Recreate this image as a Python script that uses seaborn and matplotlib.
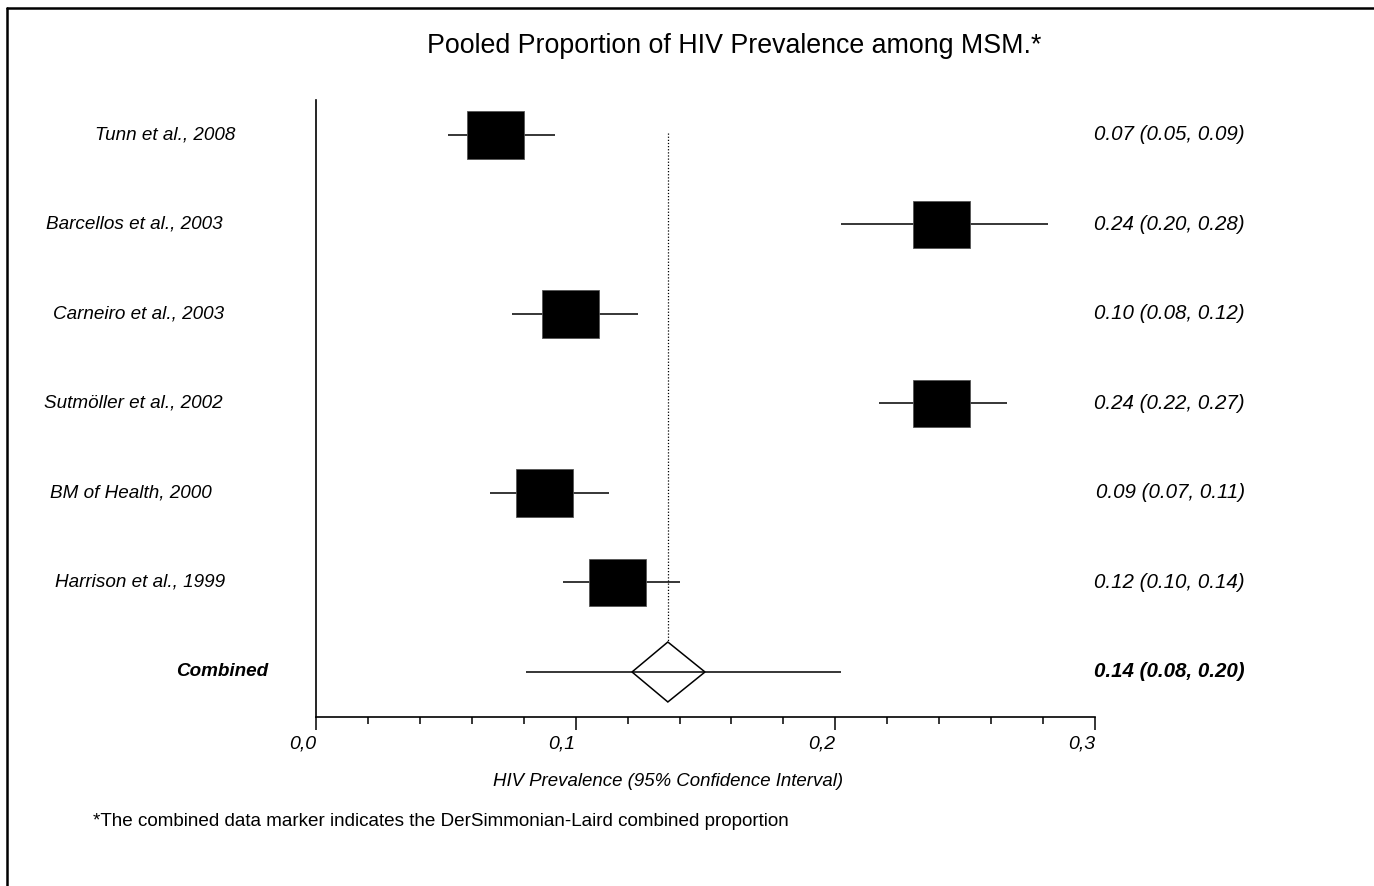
import matplotlib
matplotlib.use("Agg")
import matplotlib.pyplot as plt
from matplotlib.lines import Line2D
from matplotlib.patches import Polygon
from matplotlib.ticker import MultipleLocator, FixedLocator
from matplotlib.transforms import blended_transform_factory
import seaborn as sns

# Data
studies = ["Tunn et al., 2008", "Barcellos et al., 2003", "Carneiro et al., 2003",
           "Sutmöller et al., 2002", "BM of Health, 2000", "Harrison et al., 1999"]
estimates = [0.069, 0.241, 0.098, 0.241, 0.088, 0.116]
ci_low = [0.051, 0.202, 0.0755, 0.217, 0.067, 0.095]
ci_high = [0.092, 0.282, 0.124, 0.266, 0.113, 0.140]
ci_labels = ["0.07 (0.05, 0.09)", "0.24 (0.20, 0.28)", "0.10 (0.08, 0.12)",
             "0.24 (0.22, 0.27)", "0.09 (0.07, 0.11)", "0.12 (0.10, 0.14)"]

pooled_name = "Combined"
pooled_est = 0.1355
pooled_low = 0.081
pooled_high = 0.202
pooled_box_low = 0.1217
pooled_box_high = 0.1498
pooled_label = "0.14 (0.08, 0.20)"

x_ticks = [0.0, 0.1, 0.2, 0.3]
x_tick_labels = ["0,0", "0,1", "0,2", "0,3"]

sns.set_theme(style="white")
plt.rcParams["font.family"] = ["Liberation Sans", "DejaVu Sans"]
plt.rcParams["text.color"] = "black"
plt.rcParams["axes.labelcolor"] = "black"
plt.rcParams["xtick.color"] = "black"

W, H = 1374, 886
fig = plt.figure(figsize=(W / 100, H / 100), dpi=100)
fig.patch.set_facecolor("white")

# axes placed in pixels: x 316..1095, y 100..717
ax = fig.add_axes([316 / W, 1 - 717 / H, 779 / W, 617 / H])
ax.set_facecolor("white")

n = len(studies)
rows = list(range(n))
box_w = 0.022
box_h = 0.53

# CI whiskers
ax.hlines(rows, ci_low, ci_high, color="black", linewidth=1.1, zorder=2)
# study boxes
ax.barh(rows, [box_w] * n, left=[e - box_w / 2 for e in estimates], height=box_h,
        color="black", edgecolor="#555555", linewidth=0.6, zorder=3)

# pooled estimate
pr = n
ax.hlines(pr, pooled_low, pooled_high, color="black", linewidth=1.1, zorder=2)
dh = 0.335
diamond = Polygon([(pooled_box_low, pr), (pooled_est, pr - dh),
                   (pooled_box_high, pr), (pooled_est, pr + dh)],
                  closed=True, facecolor="none", edgecolor="black", linewidth=1.1, zorder=3)
ax.add_patch(diamond)
ax.vlines(pooled_est, -0.02, pr - dh, color="black", linewidth=0.9,
          linestyles=(0, (1, 1.5)), zorder=1)

ax.set_xlim(0, 0.3)
ax.set_ylim(6.503, -0.391)

sns.despine(ax=ax, top=True, right=True)
for s in ("left", "bottom"):
    ax.spines[s].set_color("black")
    ax.spines[s].set_linewidth(1.2)

ax.xaxis.set_major_locator(FixedLocator(x_ticks))
ax.xaxis.set_minor_locator(MultipleLocator(0.02))
ax.set_xticklabels(x_tick_labels, fontsize=14, style="italic", ha="right")
ax.tick_params(axis="x", which="major", direction="out", length=9, width=1.1,
               color="black", pad=4, bottom=True)
ax.tick_params(axis="x", which="minor", direction="out", length=5, width=1.1,
               color="black", bottom=True)
ax.set_yticks([])

blend = blended_transform_factory(fig.transFigure, ax.transData)

# left-hand study labels (left edges in pixels) and right-hand CI labels
label_x = [95, 46, 53, 44, 50, 55]
for i, name in enumerate(studies):
    ax.text(label_x[i] / W, i, name, transform=blend,
            ha="left", va="center", fontsize=13.6, style="italic")
    ax.text(1245 / W, i, ci_labels[i], transform=blend,
            ha="right", va="center", fontsize=14.8, style="italic")

ax.text(176 / W, pr, pooled_name, transform=blend, ha="left", va="center",
        fontsize=13.6, style="italic", weight="bold")
ax.text(1245 / W, pr, pooled_label, transform=blend, ha="right", va="center",
        fontsize=14.8, style="italic", weight="bold")

fig.text(734 / W, 1 - 46 / H, "Pooled Proportion of HIV Prevalence among MSM.*",
         ha="center", va="center", fontsize=19.3)
fig.text(668 / W, 1 - 781 / H, "HIV Prevalence (95% Confidence Interval)",
         ha="center", va="center", fontsize=13.4, style="italic")
fig.text(93 / W, 1 - 821 / H,
         "*The combined data marker indicates the DerSimmonian-Laird combined proportion",
         ha="left", va="center", fontsize=13.6)

# frame lines at top and left of the figure
fig.add_artist(Line2D([7 / W, 1], [1 - 8 / H, 1 - 8 / H], transform=fig.transFigure,
                      color="black", linewidth=1.8))
fig.add_artist(Line2D([7 / W, 7 / W], [0, 1 - 8 / H], transform=fig.transFigure,
                      color="black", linewidth=1.8))

fig.savefig("out.png", dpi=100, facecolor="white")
